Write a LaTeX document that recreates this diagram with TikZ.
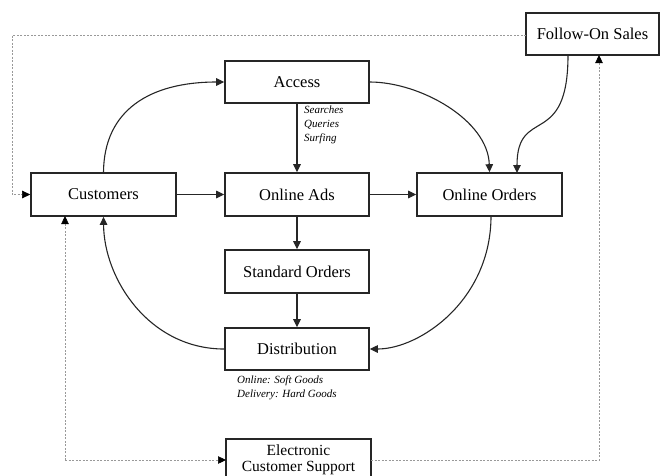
\documentclass[tikz,border=0pt]{standalone}
\usepackage{fontspec}
\setmainfont{Liberation Serif}
\usetikzlibrary{arrows.meta}
\begin{document}
\begin{tikzpicture}[x=1pt,y=-1pt,
  box/.style={draw=black!85,line width=1.6pt,inner sep=0pt,align=center,font=\fontsize{16.5}{14}\selectfont},
  conn/.style={draw=black!85,line width=1.1pt,-{Triangle[length=8pt,width=7.5pt]}},
  dconn/.style={draw=black!40,line width=0.5pt,dash pattern=on 2pt off 1.5pt,-{Triangle[length=8pt,width=7.5pt,color=black,fill=black]}},
  note/.style={font=\fontsize{11}{14}\selectfont\itshape,align=left,inner sep=0pt,anchor=north west}]
\clip (0,0) rectangle (660,475);
\node[box,minimum width=144pt,minimum height=42pt] (access) at (297,82) {Access};
\node[box,minimum width=145pt,minimum height=43pt] (cust) at (103.5,194.5) {Customers};
\node[box,minimum width=144pt,minimum height=43pt] (ads) at (297,194.5) {Online Ads};
\node[box,minimum width=145pt,minimum height=43pt] (orders) at (489.5,194.5) {Online Orders};
\node[box,minimum width=133pt,minimum height=42pt] (follow) at (592.5,34) {Follow-On Sales};
\node[box,minimum width=144pt,minimum height=43pt] (std) at (297,271.5) {Standard Orders};
\node[box,minimum width=144pt,minimum height=42pt] (dist) at (297,349) {Distribution};
\node[box,minimum width=145pt,minimum height=42pt,anchor=north,font=\fontsize{15.5}{15.5}\selectfont] (esupp) at (298.5,438) {Electronic\\Customer Support};
% straight connectors
\draw[conn] (cust.east) -- (ads.west);
\draw[conn] (ads.east) -- (orders.west);
\draw[conn] (access.south) -- (ads.north);
\draw[conn] (ads.south) -- (std.north);
\draw[conn] (std.south) -- (dist.north);
% curved connectors
\draw[conn] (cust.north) .. controls (104,110) and (150,82) .. (access.west);
\draw[conn] (access.east) .. controls (420,82) and (488,120) .. (orders.north);
\coordinate (fs) at (568,55);
\coordinate (oo) at (517,173);
\draw[conn] (fs) .. controls (568,150) and (517,105) .. (oo);
\coordinate (ob) at (491,216);
\draw[conn] (ob) .. controls (491,300) and (420,349) .. (dist.east);
\draw[conn] (dist.west) .. controls (150,349) and (104,280) .. (cust.south);
% dashed feedback lines
\coordinate (fl) at (526,35);
\coordinate (d1) at (12,35);
\coordinate (d2) at (12,194.5);
\draw[dconn] (fl) -- (d1) -- (d2) -- (cust.west);
\coordinate (el) at (226,460);
\coordinate (e1) at (65,460);
\coordinate (cb) at (65,216);
\draw[dconn] (e1) -- (cb);
\draw[dconn] (e1) -- (el);
\coordinate (er) at (371,460);
\coordinate (e2) at (599,460);
\coordinate (fb) at (599,55);
\draw[dconn] (er) -- (e2) -- (fb);
% notes
\node[note] (n1) at (304,106) {Searches\\Queries\\Surfing};
\node[note] (n2) at (237,376) {Online: Soft Goods\\Delivery: Hard Goods};
\end{tikzpicture}
\end{document}
